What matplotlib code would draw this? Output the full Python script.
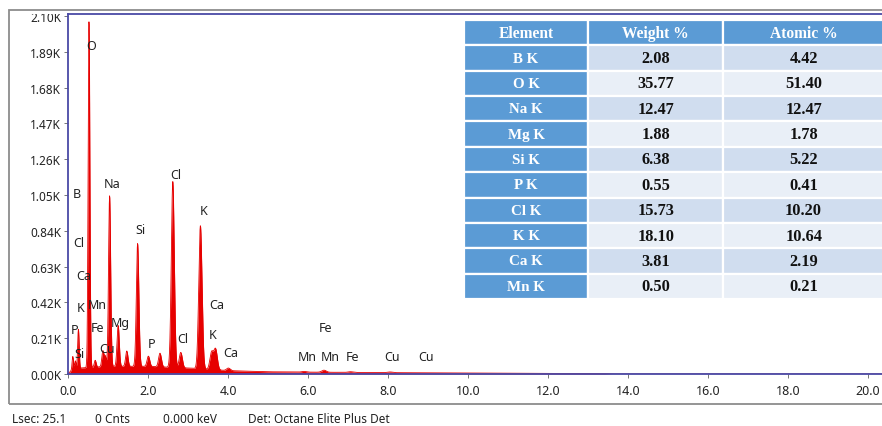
import numpy as np
import matplotlib
matplotlib.use("Agg")
import matplotlib.pyplot as plt
from matplotlib.patches import Rectangle

plt.rcParams['font.family'] = ['Noto Sans', 'DejaVu Sans']

# ---- spectrum peaks (keV, counts in K) ----
peak_kev = [0.12, 0.183, 0.26, 0.525, 0.68, 0.87, 0.93, 1.04, 1.254, 1.47,
            1.74, 2.01, 2.30, 2.62, 2.82, 3.31, 3.59, 3.69, 4.01,
            5.90, 6.40, 7.06, 8.05]
peak_cnt = [0.08, 0.05, 0.23, 2.03, 0.04, 0.09, 0.06, 1.00, 0.24, 0.09,
            0.72, 0.06, 0.08, 1.09, 0.09, 0.84, 0.10, 0.12, 0.015,
            0.004, 0.012, 0.004, 0.004]

# continuum background knots (keV, K counts)
bg_kev = [0.0, 0.08, 0.3, 1.0, 2.0, 3.0, 4.0, 5.0, 6.0, 8.0, 10.0, 12.0, 13.4, 13.6, 20.5]
bg_cnt = [0.0, 0.02, 0.035, 0.045, 0.045, 0.035, 0.02, 0.013, 0.011, 0.008, 0.006, 0.004, 0.003, 0.0, 0.0]

# peak labels: text, keV, K counts
lbl_txt = ['O', 'B', 'Na', 'Cl', 'K', 'Si', 'Cl', 'Ca', 'K', 'Mn', 'Ca', 'P',
           'Fe', 'Mg', 'K', 'Cl', 'P', 'Cu', 'Ca', 'Si',
           'Fe', 'Mn', 'Mn', 'Fe', 'Cu', 'Cu']
lbl_kev = [0.58, 0.23, 1.10, 2.69, 3.40, 1.82, 0.27, 0.40, 0.32, 0.72, 3.72, 0.17,
           0.74, 1.30, 3.62, 2.88, 2.08, 0.98, 4.07, 0.28,
           6.45, 5.98, 6.55, 7.12, 8.10, 8.95]
lbl_cnt = [1.93, 1.06, 1.12, 1.17, 0.96, 0.85, 0.77, 0.58, 0.39, 0.41, 0.41, 0.26,
           0.27, 0.30, 0.23, 0.21, 0.18, 0.148, 0.124, 0.118,
           0.27, 0.10, 0.10, 0.10, 0.10, 0.10]

# ---- quantification table ----
elements = ['B K', 'O K', 'Na K', 'Mg K', 'Si K', 'P K', 'Cl K', 'K K', 'Ca K', 'Mn K']
weight_pct = ['2.08', '35.77', '12.47', '1.88', '6.38', '0.55', '15.73', '18.10', '3.81', '0.50']
atomic_pct = ['4.42', '51.40', '12.47', '1.78', '5.22', '0.41', '10.20', '10.64', '2.19', '0.21']
headers = ['Element', 'Weight %', 'Atomic %']

# build the spectrum: detector broadening grows with energy
energy = np.arange(0.0, 20.5, 0.004)
counts = np.interp(energy, bg_kev, bg_cnt)
for e0, h in zip(peak_kev, peak_cnt):
    fwhm = np.sqrt(0.036 ** 2 + 2.42e-6 * e0 * 1000.0)
    sig = fwhm / 2.355
    counts += h * np.exp(-0.5 * ((energy - e0) / sig) ** 2)

W, H = 882, 427
fig = plt.figure(figsize=(W / 100, H / 100), dpi=100)

# outer gray frame
fig.patches.append(Rectangle((9 / W, 1 - 405 / H), 1.2, (405 - 11) / H,
                             transform=fig.transFigure, fill=False,
                             edgecolor='#8c8c8c', linewidth=1.3))

ax = fig.add_axes([68 / W, 1 - 375 / H, 1 - 68 / W, (375 - 15) / H])
ax.fill_between(energy, counts, 0, color='#e60000', linewidth=0)
ax.plot(energy, counts, color='#e60000', linewidth=0.6)

ax.set_xlim(0, 20.35)
ax.set_ylim(0, 2.112)
xt = np.arange(0, 20.1, 2.0)
ax.set_xticks(xt)
ax.set_xticklabels([f'{v:.1f}' for v in xt])
yt = np.arange(0, 2.11, 0.21)
ax.set_yticks(yt)
ax.set_yticklabels([f'{v:.2f}K' for v in yt])
ax.tick_params(axis='both', length=3, width=0.6, color='#606060',
               labelcolor='#222222')
ax.tick_params(axis='x', labelsize=9, pad=4)
ax.tick_params(axis='y', labelsize=8.5, pad=2)
for side in ['left', 'bottom', 'top']:
    ax.spines[side].set_color('#4a4aa6')
    ax.spines[side].set_linewidth(1.3)
ax.spines['right'].set_visible(False)

# the top tick label runs under the window edge
ax.add_patch(Rectangle((10 / W, 1 - 14.5 / H), 57 / W, 3 / H, transform=fig.transFigure,
                       facecolor='white', edgecolor='none', clip_on=False, zorder=10))

for t, x, y in zip(lbl_txt, lbl_kev, lbl_cnt):
    ax.text(x, y, t, ha='center', va='center', fontsize=9, color='#222222')

# table block in the upper right
tab_ax = fig.add_axes([464 / W, 1 - 300 / H, 1 - 464 / W + 0.002, (300 - 21) / H])
tab_ax.axis('off')
cells = [[e, w, a] for e, w, a in zip(elements, weight_pct, atomic_pct)]
tbl = tab_ax.table(cellText=cells, colLabels=headers, cellLoc='center',
                   colWidths=[124, 135, 160], bbox=[0, 0, 1, 1])
tbl.auto_set_font_size(False)
for (r, c), cell in tbl.get_celld().items():
    cell.set_edgecolor('white')
    cell.set_linewidth(1.6)
    txt = cell.get_text()
    txt.set_fontfamily('Liberation Serif')
    txt.set_fontweight('bold')
    if r == 0:
        txt.set_fontsize(11.2)
    elif c == 0:
        txt.set_fontsize(10.8)
    else:
        txt.set_fontsize(11.8)
    if r == 0 or c == 0:
        cell.set_facecolor('#5b9bd5')
        txt.set_color('white')
    else:
        cell.set_facecolor('#d0ddef' if r % 2 == 1 else '#e9eff7')
        txt.set_color('#111111')

# status line under the frame
status = [('Lsec: 25.1', 12), ('0 Cnts', 95), ('0.000 keV', 163),
          ('Det: Octane Elite Plus Det', 248)]
for s, px in status:
    fig.text(px / W, 1 - 420 / H, s, ha='left', va='center', fontsize=8.5,
             color='#222222')

fig.savefig('out.png', dpi=100)
